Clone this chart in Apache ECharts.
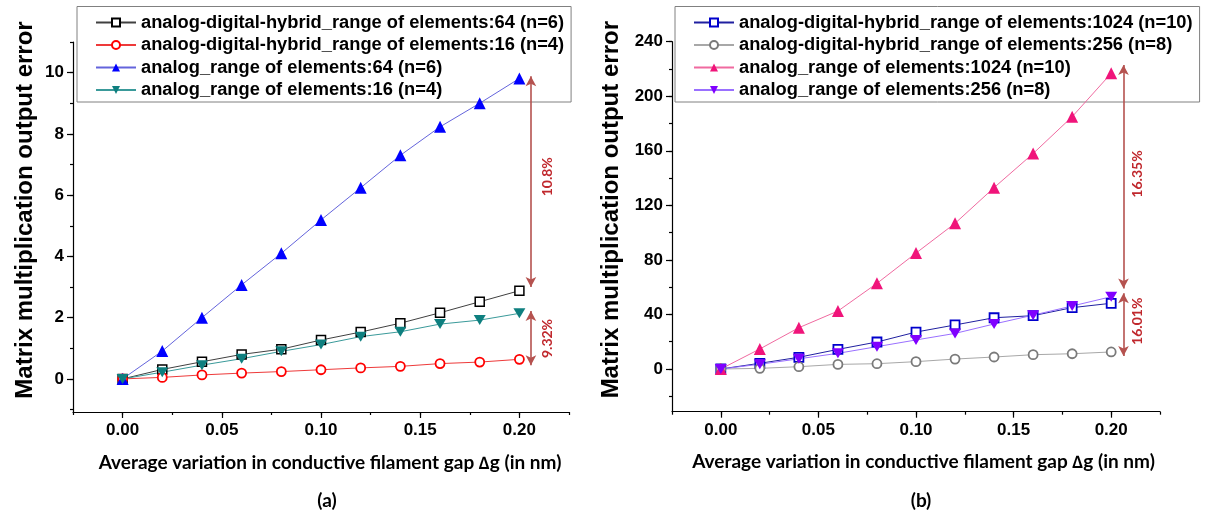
<!DOCTYPE html>
<html>
<head>
<meta charset="utf-8">
<script src="https://cdn.jsdelivr.net/npm/echarts@6/dist/echarts.min.js"></script>
<style>
  html, body { margin: 0; padding: 0; background: #fff; }
  #chart { width: 1207px; height: 514px; }
</style>
</head>
<body>
<div id="chart"></div>
<script>
// Average variation in conductive filament gap (nm)
const gapValues = [0.00, 0.02, 0.04, 0.06, 0.08, 0.10, 0.12, 0.14, 0.16, 0.18, 0.20];

// (a) smaller crossbars
const hybrid64 = [0, 0.31, 0.56, 0.80, 0.97, 1.27, 1.53, 1.82, 2.16, 2.52, 2.88];
const hybrid16 = [0, 0.05, 0.13, 0.19, 0.24, 0.30, 0.36, 0.41, 0.50, 0.55, 0.64];
const analog64 = [0, 0.91, 2.00, 3.07, 4.10, 5.19, 6.24, 7.30, 8.23, 9.00, 9.81];
const analog16 = [0, 0.22, 0.45, 0.66, 0.90, 1.12, 1.38, 1.54, 1.79, 1.92, 2.14];

// (b) larger crossbars
const hybrid1024 = [0, 4.2, 8.6, 14.4, 19.8, 27.1, 32.3, 37.6, 39.1, 45.0, 48.2];
const hybrid256  = [0, 0.5, 1.7, 3.4, 3.9, 5.4, 7.3, 8.8, 10.5, 11.2, 12.5];
const analog1024 = [0, 14.7, 30.3, 42.5, 62.8, 85.0, 106.8, 133.0, 158.0, 185.0, 216.8];
const analog256  = [0, 3.5, 7.5, 11.5, 16.4, 21.3, 26.1, 33.0, 39.5, 46.2, 53.0];

const legendA = [
  'analog-digital-hybrid_range of elements:64 (n=6)',
  'analog-digital-hybrid_range of elements:16 (n=4)',
  'analog_range of elements:64 (n=6)',
  'analog_range of elements:16 (n=4)'
];
const legendB = [
  'analog-digital-hybrid_range of elements:1024 (n=10)',
  'analog-digital-hybrid_range of elements:256 (n=8)',
  'analog_range of elements:1024 (n=10)',
  'analog_range of elements:256 (n=8)'
];

// Gap arrows: [x, top, bottom] and their percentage labels [x, y, text]
const arrowsA = [[0.2058, 9.88, 3.0], [0.2058, 2.22, 0.45]];
const arrowLabelsA = [[0.2143, 6.6, '10.8%'], [0.2143, 1.32, '9.32%']];
const arrowsB = [[0.2063, 223, 59], [0.2063, 55.5, 9.5]];
const arrowLabelsB = [[0.2133, 143, '16.35%'], [0.2133, 35, '16.01%']];

// Tick positions
const xMajor = [0, 0.05, 0.10, 0.15, 0.20];
const xMinor = [-0.025, 0, 0.025, 0.05, 0.075, 0.10, 0.125, 0.15, 0.175, 0.20, 0.225];
const yMajorA = [0, 2, 4, 6, 8, 10];
const yMinorA = [-1, 0, 1, 2, 3, 4, 5, 6, 7, 8, 9, 10, 11];
const yMajorB = [0, 40, 80, 120, 160, 200, 240];
const yMinorB = [-20, 0, 20, 40, 60, 80, 100, 120, 140, 160, 180, 200, 220, 240];

const downTriangle = 'path://M0,0 L10,0 L5,8.66 Z';
const sansBold = 'Liberation Sans, Arial, sans-serif';
const tickFont = { fontFamily: sansBold, fontWeight: 'bold', fontSize: 17, color: '#000' };
const titleFont = 'Lato, Calibri, sans-serif';

function fmtX(v) { return v.toFixed(2); }

function xAxes(gridIndex, shift) {
  return [
    {
      type: 'value', gridIndex, min: -0.025, max: 0.225,
      name: 'Average variation in conductive filament gap \u2206g (in nm)',
      nameLocation: 'middle', nameGap: 41,
      nameTextStyle: { fontFamily: titleFont, fontWeight: 'bold', fontSize: 19, color: '#000', padding: [0, 0, 0, shift] },
      axisLine: { show: true, onZero: false, lineStyle: { color: '#000', width: 1.2 } },
      axisTick: { show: true, inside: false, length: 6, customValues: xMajor, lineStyle: { color: '#000', width: 1.2 } },
      axisLabel: Object.assign({ customValues: xMajor, formatter: fmtX, margin: 10 }, tickFont),
      splitLine: { show: false }
    },
    {
      type: 'value', gridIndex, min: -0.025, max: 0.225, position: 'bottom',
      axisLine: { show: false, onZero: false },
      axisTick: { show: true, inside: false, length: 3, customValues: xMinor, lineStyle: { color: '#000', width: 1.2 } },
      axisLabel: { show: false },
      splitLine: { show: false }
    }
  ];
}

function yAxes(gridIndex, min, max, major, minor, gap) {
  return [
    {
      type: 'value', gridIndex, min, max,
      name: 'Matrix multiplication output error',
      nameLocation: 'middle', nameGap: gap, nameRotate: 90,
      nameTextStyle: { fontFamily: sansBold, fontWeight: 'bold', fontSize: 24, color: '#000', padding: [0, 0, 0, 34] },
      axisLine: { show: true, onZero: false, lineStyle: { color: '#000', width: 1.2 } },
      axisTick: { show: true, inside: false, length: 6, customValues: major, lineStyle: { color: '#000', width: 1.2 } },
      axisLabel: Object.assign({ customValues: major, margin: 9 }, tickFont),
      splitLine: { show: false }
    },
    {
      type: 'value', gridIndex, min, max, position: 'left',
      axisLine: { show: false, onZero: false },
      axisTick: { show: true, inside: false, length: 3, customValues: minor, lineStyle: { color: '#000', width: 1.2 } },
      axisLabel: { show: false },
      splitLine: { show: false }
    }
  ];
}

function pairs(ys) { return gapValues.map((x, i) => [x, ys[i]]); }

function lineSeries(name, ys, xi, yi, opts) {
  return {
    type: 'line', name, data: pairs(ys), xAxisIndex: xi, yAxisIndex: yi,
    symbol: opts.symbol, symbolSize: opts.size, showAllSymbol: true,
    lineStyle: { color: opts.line, width: 1 },
    itemStyle: { color: opts.fill, borderColor: opts.border, borderWidth: opts.bw || 0 },
    emphasis: { disabled: true },
    z: 3,
    animation: false
  };
}

function arrowMarks(arrows, labels) {
  return {
    markLine: {
      silent: true, animation: false,
      symbol: ['arrow', 'arrow'], symbolSize: [8, 10],
      lineStyle: { color: '#b5524f', width: 1.6, type: 'solid' },
      label: { show: false },
      data: arrows.map(a => [{ coord: [a[0], a[1]] }, { coord: [a[0], a[2]] }])
    },
    markPoint: {
      silent: true, animation: false,
      symbol: 'rect', symbolSize: 1, itemStyle: { color: 'rgba(0,0,0,0)' },
      label: {
        show: true, position: 'inside', rotate: 90, formatter: '{b}',
        fontFamily: titleFont, fontWeight: 'bold', fontSize: 14, color: '#c0282d'
      },
      data: labels.map(l => ({ name: l[2], coord: [l[0], l[1]] }))
    }
  };
}

const legendCommon = {
  orient: 'vertical', itemWidth: 40, itemHeight: 10, itemGap: 4.5,
  backgroundColor: '#fff', borderColor: '#808080', borderWidth: 1,
  padding: [7, 7, 3, 18], z: 1,
  textStyle: { fontFamily: sansBold, fontWeight: 'bold', fontSize: 18.3, color: '#000' },
  selectedMode: false
};

const seriesA = [
  lineSeries(legendA[0], hybrid64, 0, 0, { symbol: 'rect', size: 9, line: '#404040', fill: '#fff', border: '#000', bw: 1.5 }),
  lineSeries(legendA[1], hybrid16, 0, 0, { symbol: 'circle', size: 9, line: '#ee3a3a', fill: '#fff', border: '#ff0000', bw: 1.8 }),
  Object.assign(lineSeries(legendA[2], analog64, 0, 0, { symbol: 'triangle', size: 12, line: '#6464dc', fill: '#0000ff' }),
    arrowMarks(arrowsA, arrowLabelsA)),
  lineSeries(legendA[3], analog16, 0, 0, { symbol: downTriangle, size: [12, 10], line: '#3a9a9a', fill: '#0e7f7f' })
];

const seriesB = [
  lineSeries(legendB[0], hybrid1024, 2, 2, { symbol: 'rect', size: 9, line: '#2020a0', fill: '#fff', border: '#0000cc', bw: 1.8 }),
  lineSeries(legendB[1], hybrid256, 2, 2, { symbol: 'circle', size: 9, line: '#a8a8a8', fill: '#fff', border: '#7a7a7a', bw: 1.8 }),
  Object.assign(lineSeries(legendB[2], analog1024, 2, 2, { symbol: 'triangle', size: 12, line: '#f06aa0', fill: '#f0147a' }),
    arrowMarks(arrowsB, arrowLabelsB)),
  lineSeries(legendB[3], analog256, 2, 2, { symbol: downTriangle, size: [12, 10], line: '#9a70ff', fill: '#8000ff' })
];

const chart = echarts.init(document.getElementById('chart'), null, { renderer: 'canvas' });
chart.setOption({
  animation: false,
  backgroundColor: '#fff',
  title: [
    { text: '(a)', left: 322, top: 486, textAlign: 'center',
      textStyle: { fontFamily: titleFont, fontWeight: 'bold', fontSize: 19, color: '#000' } },
    { text: '(b)', left: 916, top: 486, textAlign: 'center',
      textStyle: { fontFamily: titleFont, fontWeight: 'bold', fontSize: 19, color: '#000' } }
  ],
  grid: [
    { left: 73, top: 42, width: 496, height: 370 },
    { left: 672, top: 41.7, width: 488, height: 370 }
  ],
  legend: [
    Object.assign({ left: 77, top: 6.5, data: legendA }, legendCommon),
    Object.assign({ left: 675, top: 6.5, data: legendB }, legendCommon)
  ],
  xAxis: xAxes(0, 18).concat(xAxes(1, 15)),
  yAxis: yAxes(0, -1.08, 11, yMajorA, yMinorA, 36).concat(yAxes(1, -31.3, 240, yMajorB, yMinorB, 49)),
  series: seriesA.concat(seriesB)
});
</script>
</body>
</html>
